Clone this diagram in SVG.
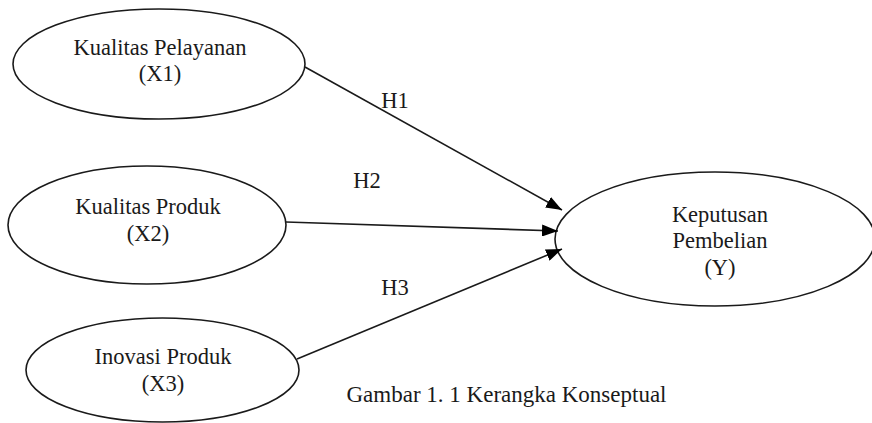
<svg xmlns="http://www.w3.org/2000/svg" width="872" height="423" viewBox="0 0 872 423">
<style>
.node ellipse{fill:#fff;stroke:#1a1a1a;stroke-width:1.6}
text{font-family:"Liberation Serif","Times New Roman",serif;font-size:22.5px;fill:#1a1a1a;text-anchor:middle}
.caption{font-size:23px}
.conn line{stroke:#1a1a1a;stroke-width:1.6;fill:none}
</style>
<defs>
<marker id="ah" markerUnits="userSpaceOnUse" markerWidth="17" markerHeight="12" refX="16" refY="6" orient="auto">
<path d="M0,0 L16,6 L0,12 Z" fill="#000"/>
</marker>
</defs>
<rect width="872" height="423" fill="#fff"/>
<g id="x1" class="node">
<ellipse cx="159" cy="64" rx="146" ry="55"/>
<text x="160" y="55">Kualitas Pelayanan</text>
<text x="160" y="81">(X1)</text>
</g>
<g id="x2" class="node">
<ellipse cx="147" cy="225" rx="139" ry="59"/>
<text x="148" y="214">Kualitas Produk</text>
<text x="148" y="241">(X2)</text>
</g>
<g id="x3" class="node">
<ellipse cx="162.5" cy="370" rx="136.5" ry="52"/>
<text x="163" y="364">Inovasi Produk</text>
<text x="163" y="391">(X3)</text>
</g>
<g id="y" class="node">
<ellipse cx="715" cy="239" rx="160" ry="67"/>
<text x="720" y="222">Keputusan</text>
<text x="720" y="248">Pembelian</text>
<text x="720" y="275">(Y)</text>
</g>
<g id="connectors" class="conn">
<line x1="305" y1="67" x2="562" y2="210" marker-end="url(#ah)"/>
<line x1="286" y1="222" x2="558" y2="231" marker-end="url(#ah)"/>
<line x1="297" y1="359" x2="562" y2="249" marker-end="url(#ah)"/>
</g>
<g id="labels">
<text x="395" y="108">H1</text>
<text x="367" y="188">H2</text>
<text x="395" y="295">H3</text>
<text class="caption" x="506.5" y="402">Gambar 1. 1 Kerangka Konseptual</text>
</g>
</svg>
